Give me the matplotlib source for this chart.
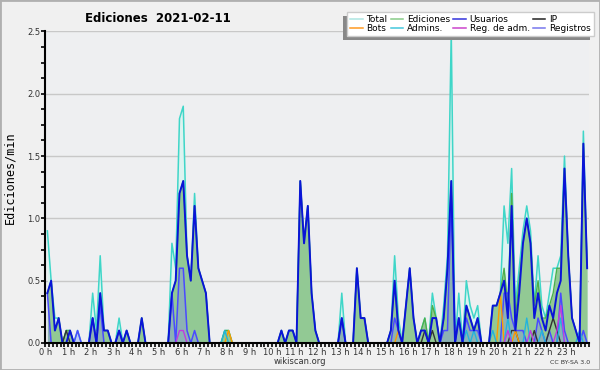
import numpy as np
import matplotlib
matplotlib.use("Agg")
import matplotlib.pyplot as plt
from matplotlib.lines import Line2D
from matplotlib.patches import Rectangle
from matplotlib.ticker import MultipleLocator, FixedLocator
from matplotlib.transforms import IdentityTransform

# 10-minute bins (144 per day), values in edits per minute
total = [
    0.9, 0.5, 0.2, 0.2, 0.0, 0.1,  0.1, 0.0, 0.1, 0.0, 0.0, 0.0,   # 0-1 h
    0.4, 0.1, 0.7, 0.1, 0.1, 0.0,  0.0, 0.2, 0.0, 0.1, 0.0, 0.0,   # 2-3 h
    0.0, 0.2, 0.0, 0.0, 0.0, 0.0,  0.0, 0.0, 0.0, 0.8, 0.6, 1.8,   # 4-5 h
    1.9, 0.7, 0.5, 1.2, 0.6, 0.5,  0.4, 0.0, 0.0, 0.0, 0.0, 0.1,   # 6-7 h
    0.1, 0.0, 0.0, 0.0, 0.0, 0.0,  0.0, 0.0, 0.0, 0.0, 0.0, 0.0,   # 8-9 h
    0.0, 0.0, 0.1, 0.0, 0.1, 0.1,  0.0, 1.3, 0.8, 1.1, 0.4, 0.1,   # 10-11 h
    0.0, 0.0, 0.0, 0.0, 0.0, 0.0,  0.4, 0.0, 0.0, 0.0, 0.6, 0.2,   # 12-13 h
    0.2, 0.0, 0.0, 0.0, 0.0, 0.0,  0.0, 0.1, 0.7, 0.2, 0.0, 0.3,   # 14-15 h
    0.6, 0.2, 0.0, 0.1, 0.2, 0.0,  0.4, 0.2, 0.0, 0.3, 0.7, 2.5,   # 16-17 h
    0.0, 0.4, 0.0, 0.5, 0.3, 0.2,  0.3, 0.0, 0.0, 0.0, 0.3, 0.3,   # 18-19 h
    0.4, 1.1, 0.8, 1.4, 0.3, 0.6,  0.9, 1.1, 0.9, 0.3, 0.7, 0.3,   # 20-21 h
    0.2, 0.4, 0.6, 0.6, 0.7, 1.5,  0.7, 0.2, 0.1, 0.0, 1.7, 0.6,   # 22-23 h
]
ediciones = [
    0.4, 0.5, 0.1, 0.2, 0.0, 0.1,  0.1, 0.0, 0.0, 0.0, 0.0, 0.0,
    0.2, 0.0, 0.4, 0.1, 0.1, 0.0,  0.0, 0.1, 0.0, 0.1, 0.0, 0.0,
    0.0, 0.2, 0.0, 0.0, 0.0, 0.0,  0.0, 0.0, 0.0, 0.4, 0.5, 1.2,
    1.3, 0.7, 0.5, 1.1, 0.6, 0.5,  0.4, 0.0, 0.0, 0.0, 0.0, 0.1,
    0.1, 0.0, 0.0, 0.0, 0.0, 0.0,  0.0, 0.0, 0.0, 0.0, 0.0, 0.0,
    0.0, 0.0, 0.1, 0.0, 0.1, 0.1,  0.0, 1.3, 0.8, 1.1, 0.4, 0.1,
    0.0, 0.0, 0.0, 0.0, 0.0, 0.0,  0.2, 0.0, 0.0, 0.0, 0.6, 0.2,
    0.2, 0.0, 0.0, 0.0, 0.0, 0.0,  0.0, 0.1, 0.5, 0.1, 0.0, 0.3,
    0.6, 0.2, 0.0, 0.1, 0.2, 0.0,  0.3, 0.2, 0.0, 0.2, 0.6, 1.3,
    0.0, 0.2, 0.0, 0.3, 0.2, 0.1,  0.2, 0.0, 0.0, 0.0, 0.3, 0.3,
    0.4, 0.6, 0.3, 1.2, 0.2, 0.5,  0.8, 1.0, 0.8, 0.3, 0.5, 0.2,
    0.2, 0.3, 0.4, 0.6, 0.6, 1.4,  0.7, 0.2, 0.1, 0.0, 1.6, 0.6,
]
usuarios = [
    0.4, 0.5, 0.1, 0.2, 0.0, 0.0,  0.1, 0.0, 0.0, 0.0, 0.0, 0.0,
    0.2, 0.0, 0.4, 0.1, 0.1, 0.0,  0.0, 0.1, 0.0, 0.1, 0.0, 0.0,
    0.0, 0.2, 0.0, 0.0, 0.0, 0.0,  0.0, 0.0, 0.0, 0.4, 0.5, 1.2,
    1.3, 0.7, 0.5, 1.1, 0.6, 0.5,  0.4, 0.0, 0.0, 0.0, 0.0, 0.0,
    0.0, 0.0, 0.0, 0.0, 0.0, 0.0,  0.0, 0.0, 0.0, 0.0, 0.0, 0.0,
    0.0, 0.0, 0.1, 0.0, 0.1, 0.1,  0.0, 1.3, 0.8, 1.1, 0.4, 0.1,
    0.0, 0.0, 0.0, 0.0, 0.0, 0.0,  0.2, 0.0, 0.0, 0.0, 0.6, 0.2,
    0.2, 0.0, 0.0, 0.0, 0.0, 0.0,  0.0, 0.1, 0.5, 0.1, 0.0, 0.3,
    0.6, 0.2, 0.0, 0.1, 0.1, 0.0,  0.2, 0.2, 0.0, 0.2, 0.6, 1.3,
    0.0, 0.2, 0.0, 0.3, 0.2, 0.1,  0.2, 0.0, 0.0, 0.0, 0.3, 0.3,
    0.4, 0.5, 0.2, 1.1, 0.1, 0.4,  0.8, 1.0, 0.8, 0.2, 0.4, 0.2,
    0.1, 0.3, 0.2, 0.4, 0.5, 1.4,  0.7, 0.2, 0.1, 0.0, 1.6, 0.6,
]
ip = [
    0.0, 0.0, 0.0, 0.0, 0.0, 0.1,  0.0, 0.0, 0.0, 0.0, 0.0, 0.0,
    0.0, 0.0, 0.0, 0.0, 0.0, 0.0,  0.0, 0.0, 0.0, 0.0, 0.0, 0.0,
    0.0, 0.0, 0.0, 0.0, 0.0, 0.0,  0.0, 0.0, 0.0, 0.0, 0.0, 0.0,
    0.0, 0.0, 0.0, 0.0, 0.0, 0.0,  0.0, 0.0, 0.0, 0.0, 0.0, 0.0,
    0.0, 0.0, 0.0, 0.0, 0.0, 0.0,  0.0, 0.0, 0.0, 0.0, 0.0, 0.0,
    0.0, 0.0, 0.0, 0.0, 0.0, 0.0,  0.0, 0.0, 0.0, 0.0, 0.0, 0.0,
    0.0, 0.0, 0.0, 0.0, 0.0, 0.0,  0.0, 0.0, 0.0, 0.0, 0.0, 0.0,
    0.0, 0.0, 0.0, 0.0, 0.0, 0.0,  0.0, 0.0, 0.0, 0.0, 0.0, 0.0,
    0.0, 0.0, 0.0, 0.0, 0.1, 0.0,  0.1, 0.0, 0.0, 0.0, 0.0, 0.0,
    0.0, 0.0, 0.0, 0.0, 0.0, 0.0,  0.0, 0.0, 0.0, 0.0, 0.0, 0.0,
    0.0, 0.0, 0.0, 0.1, 0.1, 0.0,  0.0, 0.0, 0.0, 0.1, 0.0, 0.0,
    0.0, 0.1, 0.2, 0.1, 0.0, 0.0,  0.0, 0.0, 0.0, 0.0, 0.0, 0.0,
]
bots = [
    0.0, 0.0, 0.0, 0.0, 0.0, 0.0,  0.0, 0.0, 0.0, 0.0, 0.0, 0.0,
    0.0, 0.0, 0.0, 0.0, 0.0, 0.0,  0.0, 0.0, 0.0, 0.0, 0.0, 0.0,
    0.0, 0.0, 0.0, 0.0, 0.0, 0.0,  0.0, 0.0, 0.0, 0.0, 0.0, 0.0,
    0.0, 0.0, 0.0, 0.0, 0.0, 0.0,  0.0, 0.0, 0.0, 0.0, 0.0, 0.0,
    0.1, 0.0, 0.0, 0.0, 0.0, 0.0,  0.0, 0.0, 0.0, 0.0, 0.0, 0.0,
    0.0, 0.0, 0.0, 0.0, 0.0, 0.0,  0.0, 0.0, 0.0, 0.0, 0.0, 0.0,
    0.0, 0.0, 0.0, 0.0, 0.0, 0.0,  0.0, 0.0, 0.0, 0.0, 0.0, 0.0,
    0.0, 0.0, 0.0, 0.0, 0.0, 0.0,  0.0, 0.0, 0.0, 0.1, 0.0, 0.0,
    0.0, 0.0, 0.0, 0.0, 0.0, 0.0,  0.0, 0.0, 0.0, 0.0, 0.0, 0.0,
    0.0, 0.0, 0.0, 0.0, 0.0, 0.0,  0.0, 0.0, 0.0, 0.0, 0.0, 0.0,
    0.4, 0.0, 0.0, 0.0, 0.1, 0.0,  0.0, 0.0, 0.0, 0.0, 0.0, 0.0,
    0.0, 0.0, 0.0, 0.0, 0.0, 0.0,  0.0, 0.0, 0.0, 0.0, 0.0, 0.0,
]
admins = [
    0.0, 0.0, 0.0, 0.0, 0.0, 0.0,  0.0, 0.0, 0.0, 0.0, 0.0, 0.0,
    0.0, 0.0, 0.0, 0.0, 0.0, 0.0,  0.0, 0.0, 0.0, 0.0, 0.0, 0.0,
    0.0, 0.0, 0.0, 0.0, 0.0, 0.0,  0.0, 0.0, 0.0, 0.0, 0.0, 0.0,
    0.0, 0.0, 0.0, 0.0, 0.0, 0.0,  0.0, 0.0, 0.0, 0.0, 0.0, 0.1,
    0.0, 0.0, 0.0, 0.0, 0.0, 0.0,  0.0, 0.0, 0.0, 0.0, 0.0, 0.0,
    0.0, 0.0, 0.0, 0.0, 0.0, 0.0,  0.0, 0.0, 0.0, 0.0, 0.0, 0.0,
    0.0, 0.0, 0.0, 0.0, 0.0, 0.0,  0.0, 0.0, 0.0, 0.0, 0.0, 0.0,
    0.0, 0.0, 0.0, 0.0, 0.0, 0.0,  0.0, 0.0, 0.0, 0.0, 0.0, 0.0,
    0.0, 0.0, 0.0, 0.0, 0.0, 0.0,  0.0, 0.0, 0.0, 0.0, 0.0, 0.0,
    0.0, 0.0, 0.0, 0.1, 0.0, 0.1,  0.0, 0.0, 0.0, 0.0, 0.1, 0.0,
    0.0, 0.0, 0.2, 0.0, 0.0, 0.0,  0.0, 0.2, 0.0, 0.0, 0.0, 0.1,
    0.0, 0.0, 0.0, 0.0, 0.2, 0.0,  0.0, 0.0, 0.0, 0.1, 0.0, 0.0,
]
reg_adm = [
    0.0, 0.0, 0.0, 0.0, 0.0, 0.0,  0.0, 0.0, 0.0, 0.0, 0.0, 0.0,
    0.0, 0.0, 0.0, 0.0, 0.0, 0.0,  0.0, 0.0, 0.0, 0.0, 0.0, 0.0,
    0.0, 0.0, 0.0, 0.0, 0.0, 0.0,  0.0, 0.0, 0.0, 0.0, 0.0, 0.1,
    0.1, 0.0, 0.0, 0.0, 0.0, 0.0,  0.0, 0.0, 0.0, 0.0, 0.0, 0.0,
    0.0, 0.0, 0.0, 0.0, 0.0, 0.0,  0.0, 0.0, 0.0, 0.0, 0.0, 0.0,
    0.0, 0.0, 0.0, 0.0, 0.0, 0.0,  0.0, 0.0, 0.0, 0.0, 0.0, 0.0,
    0.0, 0.0, 0.0, 0.0, 0.0, 0.0,  0.0, 0.0, 0.0, 0.0, 0.0, 0.0,
    0.0, 0.0, 0.0, 0.0, 0.0, 0.0,  0.0, 0.0, 0.0, 0.0, 0.0, 0.0,
    0.0, 0.0, 0.0, 0.0, 0.0, 0.0,  0.0, 0.0, 0.0, 0.0, 0.0, 0.0,
    0.0, 0.0, 0.0, 0.0, 0.0, 0.0,  0.0, 0.0, 0.0, 0.0, 0.0, 0.0,
    0.0, 0.0, 0.1, 0.0, 0.0, 0.0,  0.0, 0.0, 0.1, 0.0, 0.0, 0.0,
    0.0, 0.0, 0.0, 0.1, 0.3, 0.0,  0.0, 0.0, 0.0, 0.0, 0.0, 0.0,
]
registros = [
    0.4, 0.0, 0.0, 0.0, 0.0, 0.0,  0.0, 0.0, 0.1, 0.0, 0.0, 0.0,
    0.2, 0.0, 0.3, 0.0, 0.0, 0.0,  0.0, 0.1, 0.0, 0.0, 0.0, 0.0,
    0.0, 0.0, 0.0, 0.0, 0.0, 0.0,  0.0, 0.0, 0.0, 0.4, 0.0, 0.6,
    0.6, 0.1, 0.0, 0.1, 0.0, 0.0,  0.0, 0.0, 0.0, 0.0, 0.0, 0.0,
    0.0, 0.0, 0.0, 0.0, 0.0, 0.0,  0.0, 0.0, 0.0, 0.0, 0.0, 0.0,
    0.0, 0.0, 0.0, 0.0, 0.0, 0.0,  0.0, 0.0, 0.0, 0.0, 0.0, 0.0,
    0.0, 0.0, 0.0, 0.0, 0.0, 0.0,  0.2, 0.0, 0.0, 0.0, 0.0, 0.0,
    0.0, 0.0, 0.0, 0.0, 0.0, 0.0,  0.0, 0.0, 0.2, 0.1, 0.0, 0.0,
    0.0, 0.0, 0.0, 0.0, 0.0, 0.0,  0.0, 0.0, 0.0, 0.1, 0.1, 1.2,
    0.0, 0.2, 0.0, 0.2, 0.1, 0.1,  0.1, 0.0, 0.0, 0.0, 0.0, 0.0,
    0.0, 0.4, 0.4, 0.2, 0.1, 0.1,  0.1, 0.0, 0.0, 0.0, 0.2, 0.1,
    0.0, 0.1, 0.0, 0.0, 0.4, 0.1,  0.0, 0.0, 0.0, 0.0, 0.1, 0.0,
]

hour_labels = [f"{h} h" for h in range(24)]
legend_labels = ["Total", "Bots", "Ediciones", "Admins.",
                 "Usuarios", "Reg. de adm.", "IP", "Registros"]
legend_colors = ["#ade6e2", "#ff9a22", "#88cc88", "#44c8dc",
                 "#3333dd", "#cc44cc", "#222222", "#7777ee"]

x = (np.arange(len(total)) + 0.5) / 6.0  # bin centres in hours

fig = plt.figure(figsize=(6, 3.7), dpi=100, facecolor="#f0f0f0")
ax = fig.add_axes([0.0758, 0.073, 0.9059, 0.842], facecolor="#eeeff1")

# filled areas
ax.fill_between(x, total, color="#dcf3f0", lw=0, zorder=1)
ax.plot(x, total, color="#3fd6c8", lw=1.1, zorder=1.5)
ax.fill_between(x, ediciones, color="#92c994", lw=0, zorder=1.6)
ax.plot(x, ediciones, color="#4cb04c", lw=1.0, zorder=1.7)
ax.fill_between(x, registros, color="#8080ff", alpha=0.3, lw=0, zorder=1.8)
ax.plot(x, registros, color="#4a4aff", lw=1.1, zorder=1.85)

# small series
ax.plot(x, ip, color="#333333", lw=1.0, zorder=1.9)
ax.plot(x, bots, color="#ff9a00", lw=1.0, zorder=1.9)
ax.plot(x, admins, color="#22b4dd", lw=1.0, zorder=1.9)
ax.plot(x, reg_adm, color="#c03ce0", lw=1.0, zorder=1.9)
ax.plot(x, usuarios, color="#0a14d8", lw=1.4, zorder=2)

ax.set_xlim(0, 24)
ax.set_ylim(0, 2.5)

ax.xaxis.set_major_locator(FixedLocator(range(24)))
ax.set_xticklabels(hour_labels)
ax.xaxis.set_minor_locator(MultipleLocator(1 / 6))
ax.yaxis.set_major_locator(MultipleLocator(0.5))
ax.yaxis.set_minor_locator(MultipleLocator(0.125))
ax.yaxis.set_major_formatter(lambda v, p: f"{v:.1f}")

ax.tick_params(axis="both", which="both", direction="out", color="black",
               width=1.2, labelsize=6, pad=0.5, labelcolor="#333333")
ax.tick_params(axis="both", which="major", length=3.2)
ax.tick_params(axis="both", which="minor", length=2.6)

for side in ("top", "right"):
    ax.spines[side].set_visible(False)
for side in ("left", "bottom"):
    ax.spines[side].set_linewidth(1.5)
    ax.spines[side].set_color("black")

ax.yaxis.grid(True, color="#c8c8c8", lw=1)
ax.set_axisbelow(True)

fig.text(85 / 600, 1 - 18 / 370, "Ediciones  2021-02-11", fontsize=8.5,
         fontweight="bold", ha="left", va="center")
fig.text(10 / 600, 1 - 178 / 370, "Ediciones/min", rotation=90,
         family="DejaVu Sans Mono", fontsize=8.5, ha="center", va="center")
fig.text(300 / 600, 1 - 362 / 370, "wikiscan.org", fontsize=6,
         ha="center", va="center", color="#333333")
fig.text(590 / 600, 1 - 362 / 370, "CC BY-SA 3.0", fontsize=4.5,
         ha="right", va="center", color="#333333")

handles = [Line2D([], [], color=c, lw=1.1) for c in legend_colors]
leg = fig.legend(handles, legend_labels, ncol=4, loc="upper right",
                 bbox_to_anchor=(594 / 600, 1 - 11.5 / 370), fontsize=6.5,
                 frameon=True, fancybox=False, edgecolor="#cccccc",
                 framealpha=1, handlelength=1.4, handletextpad=0.4,
                 columnspacing=0.35, borderpad=0.35, labelspacing=0.05,
                 borderaxespad=0)
leg.set_zorder(10)

# hand-drawn shadow (down and to the left)
fig.canvas.draw()
bb = leg.get_window_extent()
fig.add_artist(Rectangle((bb.x0 - 4, bb.y0 - 4), bb.width, bb.height,
                         transform=IdentityTransform(), facecolor="#888888",
                         edgecolor="none", zorder=9))

# outer border
fig.add_artist(Rectangle((0, 0), 1, 1, transform=fig.transFigure, fill=False,
                         edgecolor="#b0b0b0", lw=2, zorder=20))

fig.savefig("out.png", dpi=100, facecolor=fig.get_facecolor())
